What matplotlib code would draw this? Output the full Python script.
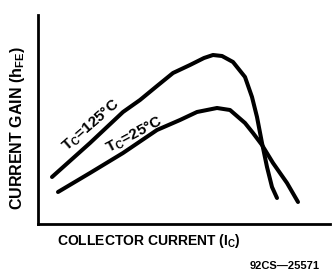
import matplotlib
matplotlib.use("Agg")
import matplotlib.pyplot as plt

# curve points (arbitrary units, origin at the axes corner)
ic_125 = [14, 52, 85, 102, 119, 135, 152, 166, 175, 184, 195, 207, 214, 219, 224, 229, 234, 239]
hfe_125 = [47, 81, 112, 124, 138, 151, 159, 166, 169, 168, 162, 147, 127, 107, 81, 57, 37, 26]

ic_25 = [20, 52, 85, 119, 142, 159, 179, 192, 207, 215, 224, 235, 249, 260]
hfe_25 = [32, 51, 71, 94, 104, 112, 116, 114, 101, 91, 79, 61, 41, 22]

label_125 = "T$_\\mathregular{C}$=125°C"
label_25 = "T$_\\mathregular{C}$=25°C"
xlabel = "COLLECTOR CURRENT (I$_\\mathregular{C}$)"
ylabel = "CURRENT GAIN (h$_\\mathregular{FE}$)"
fig_id = "92CS\u201425571"

W, H = 332, 278
fig = plt.figure(figsize=(W / 100, H / 100), dpi=100)
ax = fig.add_axes([38 / W, (H - 224) / H, 292 / W, 209 / H])

line_kw = dict(color="black", lw=2.9, solid_capstyle="round", solid_joinstyle="round")
ax.plot(ic_125, hfe_125, **line_kw)
ax.plot(ic_25, hfe_25, **line_kw)

ax.set_xlim(0, 292)
ax.set_ylim(0, 209)
ax.set_xticks([])
ax.set_yticks([])
for side in ("top", "right"):
    ax.spines[side].set_visible(False)
for side in ("left", "bottom"):
    ax.spines[side].set_linewidth(2.0)

font = dict(family="Liberation Sans", weight="bold", color="black")
ax.text(53, 99, label_125, rotation=41, ha="center", va="center", fontsize=11, **font)
ax.text(96, 89, label_25, rotation=28, ha="center", va="center", fontsize=11, **font)

fig.text(149 / W, 1 - 241 / H, xlabel, ha="center", va="center", fontsize=10, **font)
fig.text(18 / W, 1 - 128 / H, ylabel, rotation=90, ha="center", va="center", fontsize=11.5, **font)
fig.text(285 / W, 1 - 266 / H, fig_id, ha="center", va="center", fontsize=8, **font)

fig.savefig("out.png", dpi=100)
